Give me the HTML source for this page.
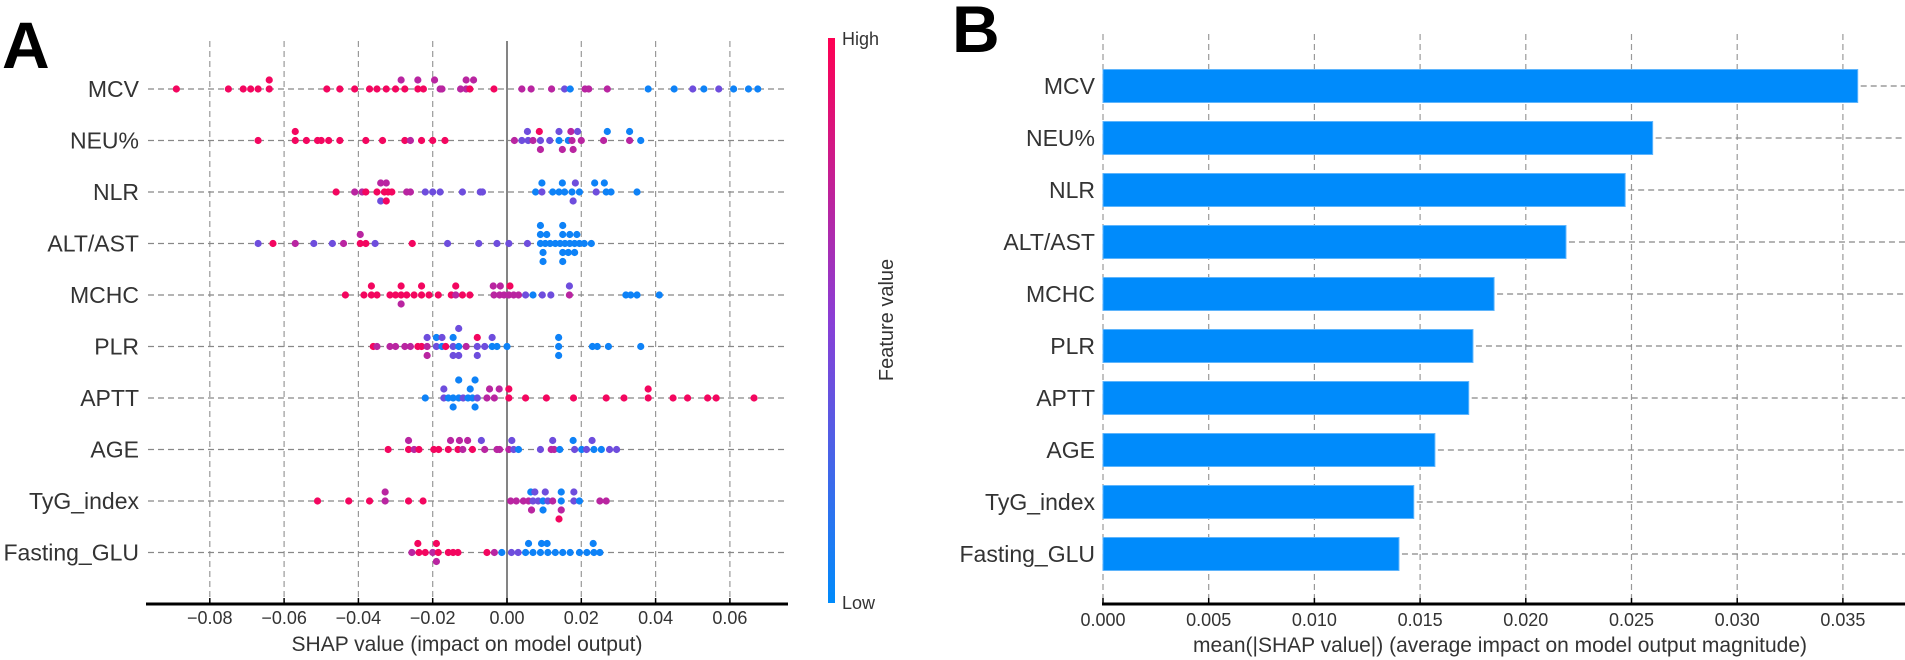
<!DOCTYPE html>
<html><head><meta charset="utf-8"><style>
html,body{margin:0;padding:0;background:#fff;width:1905px;height:660px;overflow:hidden}
svg{display:block;font-family:"Liberation Sans",Arial,sans-serif}
</style></head><body>
<svg id="chart" width="1905" height="660" viewBox="0 0 1905 660">
<defs><linearGradient id="cbar" x1="0" y1="1" x2="0" y2="0">
<stop offset="0" stop-color="#008bfb"/><stop offset="0.5" stop-color="#8a3ed6"/><stop offset="1" stop-color="#ff0052"/></linearGradient></defs>
<text x="2" y="68" font-size="66" font-weight="bold" fill="#000">A</text>
<text x="952" y="52" font-size="66" font-weight="bold" fill="#000">B</text>
<g id="pa"></g>
<g id="pb"></g>
<rect x="828" y="38" width="7" height="565" fill="url(#cbar)"/>
<text x="842" y="45" font-size="18" fill="#333">High</text>
<text x="842" y="609" font-size="18" fill="#333">Low</text>
<text x="0" y="0" font-size="20" fill="#333" text-anchor="middle" transform="translate(893,320) rotate(-90)">Feature value</text>
</svg>
<script>
const features = ["MCV","NEU%","NLR","ALT/AST","MCHC","PLR","APTT","AGE","TyG_index","Fasting_GLU"];
const xTicksA = [-0.08,-0.06,-0.04,-0.02,0.00,0.02,0.04,0.06];
const xTickLabelsA = ["\u22120.08","\u22120.06","\u22120.04","\u22120.02","0.00","0.02","0.04","0.06"];
const meanAbsShap = [0.0357,0.0260,0.0247,0.0219,0.0185,0.0175,0.0173,0.0157,0.0147,0.0140];
const xTicksB = [0,0.005,0.010,0.015,0.020,0.025,0.030,0.035];
const xTickLabelsB = ["0.000","0.005","0.010","0.015","0.020","0.025","0.030","0.035"];
// feature value levels: b=low, p, m, r=high
const b=0.05,p=0.4,m=0.7,r=0.95;
// points: [shap value, feature value, stack level]
const ptsMCV=[[-0.089,r,0],[-0.075,r,0],[-0.071,r,0],[-0.069,r,0],[-0.067,r,0],[-0.064,r,0],[-0.064,r,-1],[-0.0485,r,0],[-0.045,r,0],[-0.041,r,0],[-0.037,r,0],[-0.035,r,0],[-0.0325,r,0],[-0.030,r,0],[-0.0285,m,-1],[-0.0275,r,0],[-0.024,r,0],[-0.024,m,-1],[-0.0225,r,0],[-0.0195,m,-1],[-0.018,m,0],[-0.0175,m,0],[-0.0125,m,0],[-0.011,m,0],[-0.010,r,0],[-0.011,m,-1],[-0.009,m,-1],[-0.0035,r,0],[0.004,m,0],[0.0065,m,0],[0.012,m,0],[0.0155,p,0],[0.017,b,0],[0.021,m,0],[0.022,m,0],[0.027,m,0],[0.038,b,0],[0.045,b,0],[0.050,p,0],[0.053,b,0],[0.057,p,0],[0.061,b,0],[0.065,b,0],[0.0675,b,0]];
const ptsNEU=[[-0.067,r,0],[-0.057,r,-1],[-0.057,r,0],[-0.054,r,0],[-0.051,r,0],[-0.050,r,0],[-0.048,r,0],[-0.045,r,0],[-0.038,r,0],[-0.0335,r,0],[-0.0275,r,0],[-0.026,m,0],[-0.023,r,0],[-0.020,r,0],[-0.0167,r,0],[0.002,m,0],[0.004,p,0],[0.0057,p,0],[0.007,m,0],[0.009,p,0],[0.0115,p,0],[0.014,b,0],[0.0165,b,0],[0.0175,m,0],[0.020,m,0],[0.0055,p,-1],[0.0087,r,-1],[0.014,p,-1],[0.0172,m,-1],[0.019,p,-1],[0.009,m,1],[0.0149,m,1],[0.0178,m,1],[0.026,m,0],[0.027,b,-1],[0.033,b,-1],[0.033,m,0],[0.036,b,0]];
const ptsNLR=[[-0.046,r,0],[-0.041,m,0],[-0.039,m,0],[-0.038,r,0],[-0.035,r,0],[-0.033,r,0],[-0.032,r,0],[-0.031,r,0],[-0.034,m,-1],[-0.0325,m,-1],[-0.034,p,1],[-0.0325,r,1],[-0.027,m,0],[-0.026,m,0],[-0.022,p,0],[-0.020,p,0],[-0.018,p,0],[-0.012,p,0],[-0.0072,p,0],[-0.0066,p,0],[0.0077,b,0],[0.0094,p,0],[0.0123,b,0],[0.014,b,0],[0.0155,b,0],[0.0175,b,0],[0.0195,b,0],[0.024,p,0],[0.0267,b,0],[0.028,b,0],[0.035,b,0],[0.0094,b,-1],[0.0149,b,-1],[0.0184,p,-1],[0.0236,b,-1],[0.0262,b,-1],[0.0178,p,1]];
const ptsALT=[[-0.067,p,0],[-0.063,r,0],[-0.057,m,0],[-0.052,p,0],[-0.047,p,0],[-0.044,m,0],[-0.0395,r,0],[-0.038,r,0],[-0.0395,m,-1],[-0.0355,p,0],[-0.0255,r,0],[-0.016,p,0],[-0.0076,p,0],[-0.0027,p,0],[0.0005,p,0],[0.0055,p,0],[0.0090,b,0],[0.0103,b,0],[0.0116,b,0],[0.013,b,0],[0.0143,b,0],[0.0156,b,0],[0.0169,b,0],[0.0182,b,0],[0.0195,b,0],[0.0208,b,0],[0.0227,b,0],[0.009,b,-1],[0.0107,b,-1],[0.015,b,-1],[0.0169,b,-1],[0.0188,b,-1],[0.009,b,-2],[0.015,b,-2],[0.0097,b,1],[0.015,b,1],[0.0165,b,1],[0.0182,b,1],[0.0097,b,2],[0.015,b,2]];
const ptsMCHC=[[-0.0435,r,0],[-0.0385,r,0],[-0.0365,r,0],[-0.035,r,0],[-0.0365,r,-1],[-0.0315,r,0],[-0.030,r,0],[-0.0285,r,0],[-0.027,r,0],[-0.025,r,0],[-0.023,r,0],[-0.021,r,0],[-0.0185,r,0],[-0.0285,r,-1],[-0.023,r,-1],[-0.0285,m,1],[-0.015,r,0],[-0.0138,m,0],[-0.012,r,0],[-0.010,r,0],[-0.0138,r,-1],[-0.0035,m,0],[-0.002,m,0],[-0.0008,m,0],[0.0005,m,0],[0.0018,m,0],[-0.0037,m,-1],[-0.0018,m,-1],[0.0008,r,-1],[0.0031,m,0],[0.005,p,0],[0.007,b,0],[0.0095,p,0],[0.0118,p,0],[0.0168,m,0],[0.0168,p,-1],[0.032,b,0],[0.0333,b,0],[0.035,b,0],[0.041,b,0]];
const ptsPLR=[[-0.036,r,0],[-0.035,m,0],[-0.0315,m,0],[-0.030,m,0],[-0.0275,m,0],[-0.026,m,0],[-0.024,r,0],[-0.023,r,0],[-0.0215,m,0],[-0.0215,p,-1],[-0.0215,m,1],[-0.019,p,0],[-0.019,b,-1],[-0.0175,b,0],[-0.0175,p,-1],[-0.0165,r,0],[-0.0145,p,0],[-0.013,b,0],[-0.0145,b,-1],[-0.013,p,-2],[-0.0145,p,1],[-0.013,p,1],[-0.011,m,0],[-0.008,p,0],[-0.008,r,-1],[-0.008,p,1],[-0.006,p,0],[-0.004,b,0],[-0.004,p,-1],[-0.0027,b,0],[0,b,0],[0.0139,b,0],[0.0139,b,-1],[0.0139,b,1],[0.023,b,0],[0.0243,b,0],[0.0273,b,0],[0.036,b,0]];
const ptsAPTT=[[-0.022,b,0],[-0.017,p,0],[-0.017,p,-1],[-0.0158,b,0],[-0.0145,b,0],[-0.013,b,0],[-0.0118,p,0],[-0.0105,b,0],[-0.0093,b,0],[-0.008,p,0],[-0.013,b,-2],[-0.0099,b,-1],[-0.0086,b,-2],[-0.0145,b,1],[-0.0086,b,1],[-0.0054,m,0],[-0.0034,m,0],[-0.0047,m,-1],[-0.0021,m,-1],[0.0005,r,0],[0.0005,r,-1],[0.005,r,0],[0.0106,r,0],[0.0179,r,0],[0.0267,r,0],[0.0315,r,0],[0.038,r,0],[0.038,r,-1],[0.0447,r,0],[0.0486,r,0],[0.054,r,0],[0.0563,r,0],[0.0665,r,0]];
const ptsAGE=[[-0.032,r,0],[-0.0265,r,0],[-0.0265,m,-1],[-0.025,m,0],[-0.0237,r,0],[-0.0197,r,0],[-0.0184,r,0],[-0.0158,r,0],[-0.0132,r,0],[-0.0119,m,0],[-0.0093,r,0],[-0.006,m,0],[-0.0152,m,-1],[-0.0128,m,-1],[-0.0106,m,-1],[-0.0069,p,-1],[-0.0027,m,0],[-0.002,m,0],[0.0005,m,0],[0.0018,p,0],[0.0031,b,0],[0.0013,p,-1],[0.009,p,0],[0.0119,m,0],[0.0127,m,0],[0.0142,b,0],[0.0123,p,-1],[0.0182,p,0],[0.0201,b,0],[0.0214,p,0],[0.0234,b,0],[0.0254,b,0],[0.0178,b,-1],[0.0229,p,-1],[0.0276,p,0],[0.0295,p,0]];
const ptsTyG=[[-0.051,r,0],[-0.0426,r,0],[-0.037,r,0],[-0.0328,m,0],[-0.0328,m,-1],[-0.0265,r,0],[-0.0226,r,0],[0.001,m,0],[0.0025,m,0],[0.0044,m,0],[0.0058,m,0],[0.007,p,0],[0.0084,p,0],[0.0097,b,0],[0.011,p,0],[0.0123,m,0],[0.0146,b,0],[0.018,p,0],[0.0195,b,0],[0.0064,b,-1],[0.0075,p,-1],[0.0103,p,-1],[0.0146,b,-1],[0.018,p,-1],[0.0066,m,1],[0.0097,b,1],[0.0146,m,1],[0.014,r,2],[0.025,m,0],[0.0267,m,0]];
const ptsGLU=[[-0.0256,m,0],[-0.0237,r,0],[-0.022,r,0],[-0.020,m,0],[-0.0185,r,0],[-0.0158,r,0],[-0.0145,r,0],[-0.0132,r,0],[-0.024,r,-1],[-0.019,r,-1],[-0.019,m,1],[-0.0054,r,0],[-0.0034,m,0],[-0.0014,b,0],[0.0012,p,0],[0.003,p,0],[0.005,b,0],[0.007,b,0],[0.009,b,0],[0.011,b,0],[0.013,b,0],[0.015,b,0],[0.017,b,0],[0.0195,b,0],[0.0215,b,0],[0.0234,b,0],[0.025,b,0],[0.0058,b,-1],[0.0093,b,-1],[0.0108,b,-1],[0.0232,b,-1]];
const allPts=[ptsMCV,ptsNEU,ptsNLR,ptsALT,ptsMCHC,ptsPLR,ptsAPTT,ptsAGE,ptsTyG,ptsGLU];

const NS="http://www.w3.org/2000/svg";
function el(tag,attrs,parent,txt){const e=document.createElementNS(NS,tag);for(const k in attrs)e.setAttribute(k,attrs[k]);if(txt!==undefined)e.textContent=txt;parent.appendChild(e);return e;}
const rowY=i=>89+i*51.5;
const xA=v=>507+v*3715;
const xB=v=>1103+v*21140;
function col(t){const s=[[0,138,251],[138,62,214],[255,0,82]];let a,c,u;if(t<0.5){a=s[0];c=s[1];u=t/0.5}else{a=s[1];c=s[2];u=(t-0.5)/0.5}return `rgb(${a.map((x,i)=>Math.round(x+(c[i]-x)*u)).join(',')})`;}

// Panel A
const pa=document.getElementById('pa');
xTicksA.forEach((t,i)=>{
  const x=xA(t);
  const g=el('line',{x1:x,y1:41,x2:x,y2:604,stroke:t===0?'#666':'#999','stroke-width':t===0?1.6:1.2,'stroke-dasharray':t===0?'none':'6,4'},pa);
  
  
  const tk=el('line',{x1:x,y1:598,x2:x,y2:604,stroke:'#000','stroke-width':1.5},pa);
  
  
  const lb=el('text',{x:x,y:624,'font-size':18,fill:'#333','text-anchor':'middle'},pa,xTickLabelsA[i]);
  
  
});
features.forEach((f,i)=>{
  const y=rowY(i);
  const ln=el('line',{x1:148,y1:y,x2:788,y2:y,stroke:'#888','stroke-width':1.3,'stroke-dasharray':'6,4'},pa);
  
  
  const t=el('text',{x:139,y:y+8,'font-size':23,fill:'#333','text-anchor':'end'},pa,f);
  
  
  allPts[i].forEach(pt=>{
    const c=el('circle',{cx:xA(pt[0]),cy:y+pt[2]*9,r:3.6,fill:col(pt[1])},pa);
    
    
  });
});
const axA=el('line',{x1:146,y1:604,x2:788,y2:604,stroke:'#000','stroke-width':3},pa);


const xtA=el('text',{x:467,y:651,'font-size':21,fill:'#333','text-anchor':'middle'},pa,'SHAP value (impact on model output)');



// Panel B
const pb=document.getElementById('pb');
xTicksB.forEach((t,i)=>{
  const x=xB(t);
  const g=el('line',{x1:x,y1:34,x2:x,y2:604,stroke:'#999','stroke-width':1.2,'stroke-dasharray':'6,4'},pb);
  
  
  const tk=el('line',{x1:x,y1:598,x2:x,y2:604,stroke:'#000','stroke-width':1.5},pb);
  
  
  const lb=el('text',{x:x,y:626,'font-size':18,fill:'#333','text-anchor':'middle'},pb,xTickLabelsB[i]);
  
  
});
features.forEach((f,i)=>{
  const y=86+i*52;
  const ln=el('line',{x1:xB(meanAbsShap[i])+3,y1:y,x2:1905,y2:y,stroke:'#888','stroke-width':1.3,'stroke-dasharray':'6,4'},pb);
  
  
  const bar=el('rect',{x:xB(0),y:y-16.5,width:xB(meanAbsShap[i])-xB(0),height:33,fill:'#008bfb',stroke:'#5fb5fc','stroke-width':1},pb);
  
  
  const t=el('text',{x:1095,y:y+8,'font-size':23,fill:'#333','text-anchor':'end'},pb,f);
  
  
});
const axB=el('line',{x1:1102,y1:604,x2:1905,y2:604,stroke:'#000','stroke-width':3},pb);


const xtB=el('text',{x:1500,y:652,'font-size':21,fill:'#333','text-anchor':'middle'},pb,'mean(|SHAP value|) (average impact on model output magnitude)');


</script>
</body></html>
